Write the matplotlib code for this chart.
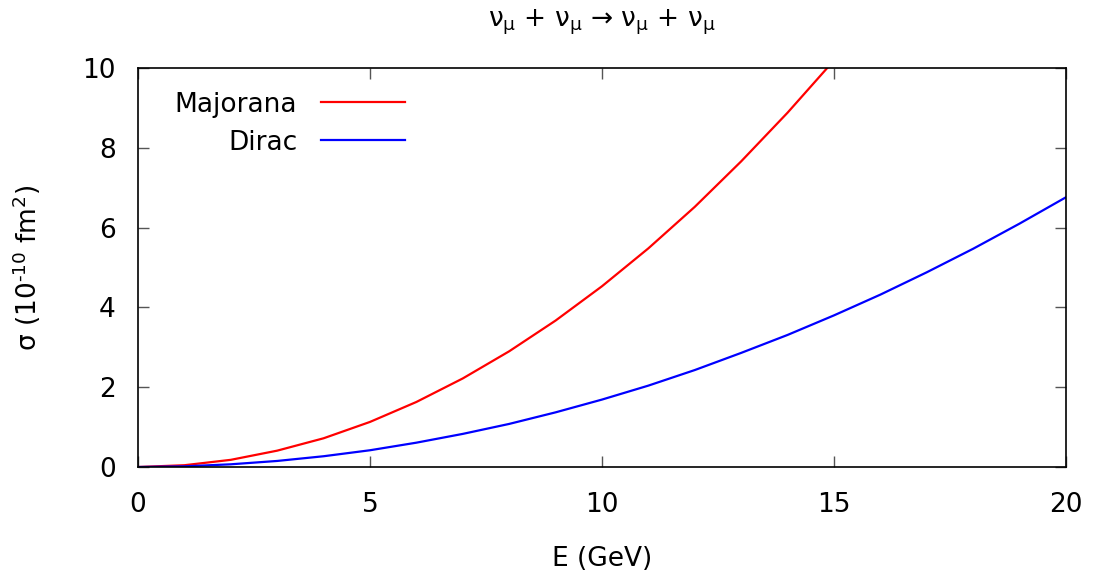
import matplotlib
matplotlib.use("Agg")
import matplotlib.pyplot as plt

# values (sigma in 1e-10 fm^2)
energy = [0, 1, 2, 3, 4, 5, 6, 7, 8, 9, 10, 11, 12, 13, 14, 15, 16, 17, 18, 19, 20]
majorana = [0, 0.045, 0.18, 0.41, 0.72, 1.13, 1.63, 2.22, 2.90, 3.67, 4.53,
            5.48, 6.52, 7.66, 8.88, 10.19]
dirac = [0, 0.017, 0.068, 0.152, 0.27, 0.42, 0.61, 0.83, 1.08, 1.37, 1.69,
         2.04, 2.43, 2.86, 3.31, 3.80, 4.32, 4.88, 5.47, 6.10, 6.76]

plt.rcParams['font.family'] = ['DejaVu Sans']
plt.rcParams['mathtext.fontset'] = 'dejavusans'

fs = 19
fig = plt.figure(figsize=(10.96, 5.8), dpi=100)
ax = fig.add_axes([0.1259, 0.1948, 0.8467, 0.688])

ax.plot(energy[:len(majorana)], majorana, color='#ff0000', lw=1.6, label='Majorana')
ax.plot(energy, dirac, color='#0000ff', lw=1.6, label='Dirac')

ax.set_xlim(0, 20)
ax.set_ylim(0, 10)
ax.set_xticks([0, 5, 10, 15, 20])
ax.set_yticks([0, 2, 4, 6, 8, 10])
ax.tick_params(direction='in', top=True, right=True, length=8, width=1,
               color='#555555', labelsize=fs)
ax.tick_params(axis='x', pad=18)
ax.tick_params(axis='y', pad=16)
for s in ax.spines.values():
    s.set_linewidth(1.2)

ax.set_xlabel('E (GeV)', fontsize=fs, labelpad=20)
ax.set_ylabel(r'σ (10$^{\text{-10}}$ fm$^{\mathregular{2}}$)', fontsize=fs, labelpad=28)
ax.set_title(r'ν$_{\mathregular{μ}}$ + ν$_{\mathregular{μ}}$ → ν$_{\mathregular{μ}}$ + ν$_{\mathregular{μ}}$',
             fontsize=fs, pad=30)

ax.legend(loc='upper left', markerfirst=False, frameon=False, fontsize=fs,
          handlelength=3.2, handletextpad=0.9, labelspacing=0.45,
          bbox_to_anchor=(0.014, 1.0))

fig.savefig('out.png', dpi=100)
